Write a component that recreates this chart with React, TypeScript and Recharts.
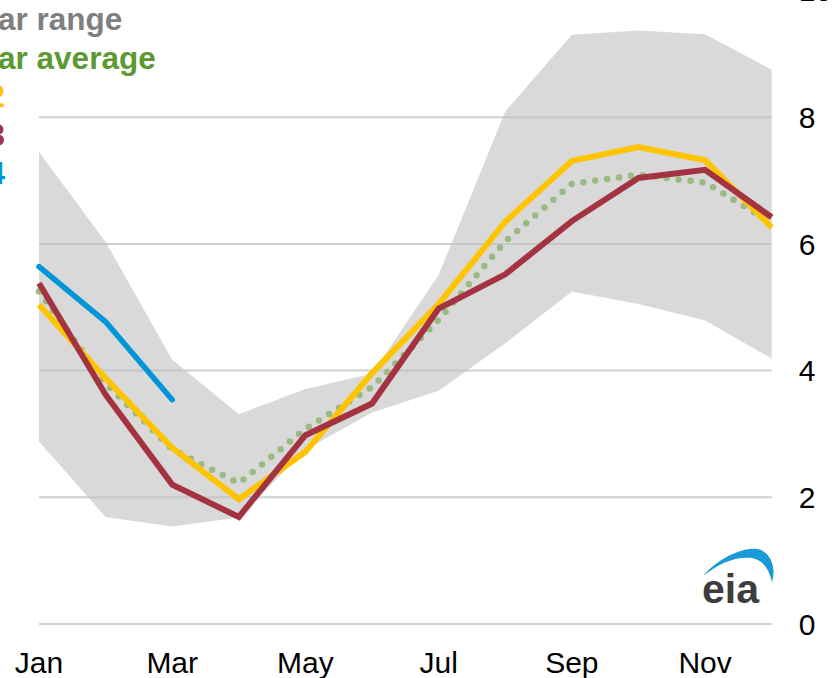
import React from "react";
import {
  Area,
  CartesianGrid,
  ComposedChart,
  Line,
  XAxis,
  YAxis,
} from "recharts";

const months = ["Jan", "Feb", "Mar", "Apr", "May", "Jun", "Jul", "Aug", "Sep", "Oct", "Nov", "Dec"];
const rangeLow = [2.88, 1.69, 1.54, 1.68, 2.75, 3.34, 3.68, 4.43, 5.25, 5.05, 4.79, 4.19];
const rangeHigh = [7.45, 6.03, 4.17, 3.31, 3.71, 3.95, 5.51, 8.09, 9.3, 9.37, 9.31, 8.75];
const average = [5.25, 3.8, 2.76, 2.22, 3.08, 3.74, 4.8, 6.04, 6.95, 7.09, 6.97, 6.33];
const y2022 = [5.04, 3.88, 2.78, 1.97, 2.72, 3.96, 5.05, 6.35, 7.31, 7.53, 7.32, 6.26];
const y2023 = [5.38, 3.62, 2.2, 1.69, 2.98, 3.48, 4.98, 5.52, 6.36, 7.04, 7.17, 6.42];
const y2024 = [5.64, 4.77, 3.54, null, null, null, null, null, null, null, null, null];
const yTicks = [0, 2, 4, 6, 8, 10];

const legendLabels = ["5-year range", "5-year average", "2022", "2023", "2024"];
const legendColors = ["#7f7f7f", "#5b9a31", "#ffc000", "#a33340", "#0096d7"];

const data = months.map((m, i) => ({
  month: m,
  range: [rangeLow[i], rangeHigh[i]],
  avg: average[i],
  y2022: y2022[i],
  y2023: y2023[i],
  y2024: y2024[i],
}));

const tickStyle = { fontFamily: "'Liberation Sans', Arial, sans-serif", fontSize: 30, fill: "#000" };

export default function App() {
  return (
    <div
      style={{
        position: "fixed",
        left: 0,
        top: 0,
        width: 837,
        height: 678,
        overflow: "hidden",
        background: "#fff",
      }}
    >
      <div style={{ position: "absolute", left: 0, top: -40 }}>
        <ComposedChart
          width={837}
          height={724}
          data={data}
          margin={{ top: 30.5, right: 0, bottom: 0, left: 39 }}
        >
          <CartesianGrid vertical={false} stroke="#d0d0d0" strokeWidth={2} />
          <XAxis
            dataKey="month"
            interval={1}
            axisLine={false}
            tickLine={false}
            tickSize={0}
            tickMargin={28}
            height={60}
            tick={tickStyle}
          />
          <YAxis
            orientation="right"
            domain={[0, 10]}
            ticks={yTicks}
            axisLine={false}
            tickLine={false}
            tickSize={0}
            tickMargin={27}
            width={65.3}
            tick={{ ...tickStyle, textAnchor: "start" }}
          />
          <Area
            type="linear"
            dataKey="range"
            stroke="none"
            fill="#bfbfbf"
            fillOpacity={0.6}
            dot={false}
            activeDot={false}
            isAnimationActive={false}
          />
          <Line
            type="linear"
            dataKey="avg"
            stroke="#9aba82"
            strokeWidth={6.5}
            strokeDasharray="0 12"
            strokeLinecap="round"
            dot={false}
            activeDot={false}
            isAnimationActive={false}
          />
          <Line
            type="linear"
            dataKey="y2022"
            stroke="#ffc400"
            strokeWidth={6}
            dot={false}
            activeDot={false}
            isAnimationActive={false}
          />
          <Line
            type="linear"
            dataKey="y2023"
            stroke="#a33340"
            strokeWidth={6}
            dot={false}
            activeDot={false}
            isAnimationActive={false}
          />
          <Line
            type="linear"
            dataKey="y2024"
            stroke="#0096d7"
            strokeWidth={5.5}
            strokeLinecap="round"
            dot={false}
            activeDot={false}
            connectNulls={false}
            isAnimationActive={false}
          />
        </ComposedChart>
      </div>
      <svg
        width={837}
        height={678}
        style={{ position: "absolute", left: 0, top: 0, pointerEvents: "none" }}
      >
        {legendLabels.map((label, i) => (
          <text
            key={label}
            x={-65}
            y={30 + i * 38.5}
            fill={legendColors[i]}
            fontFamily="'Liberation Sans', Arial, sans-serif"
            fontWeight="bold"
            fontSize={31.5}
          >
            {label}
          </text>
        ))}
        <path
          d="M703,576 C720,556 748,545 761,550 C772,555 776,569 772,582 C769,569 763,560 752,558 C735,556 718,564 703,576 Z"
          fill="#1a9ad6"
        />
        <text
          x={702}
          y={603}
          fill="#3d3d3d"
          fontFamily="'Liberation Sans', Arial, sans-serif"
          fontWeight="bold"
          fontSize={41}
        >
          eia
        </text>
      </svg>
    </div>
  );
}
